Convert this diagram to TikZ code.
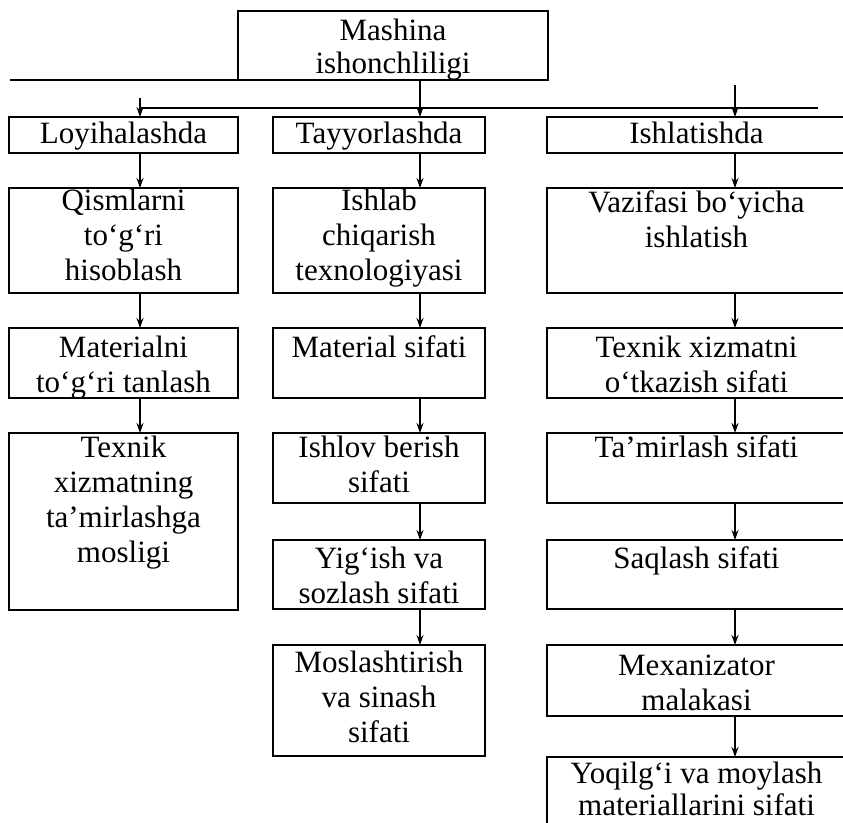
\documentclass[tikz,border=0pt]{standalone}
\usepackage{fontspec}
\setmainfont{Liberation Serif}
\usetikzlibrary{arrows.meta}
\tikzset{
  box/.style={draw, line width=1.3pt, inner sep=0pt, outer sep=0pt, anchor=north west,
              font=\fontsize{31pt}{35pt}\selectfont},
  arr/.style={line width=1.3pt, -{Stealth[length=10pt,width=7pt]}},
  ln/.style={line width=1.3pt},
}
% name, x1, y1, x2, y2, first-baseline offset, text
\newcommand\bx[7]{\node[box] (#1) at (#2,#3)
  {\parbox[t][\dimexpr#5pt-#3pt\relax][t]{\dimexpr#4pt-#2pt\relax}{\centering\rule{0pt}{#6pt}#7}};}
\begin{document}
\begin{tikzpicture}[x=1pt,y=-1pt]
\useasboundingbox (0,0) rectangle (843,822);
\clip (0,0) rectangle (843,822);

\bx{top}{238}{11}{548}{80}{29}{Mashina\\[-2pt]ishonchliligi}

\bx{h1}{9}{117}{238}{153}{26}{Loyihalashda}
\bx{h2}{273}{117}{485}{153}{26}{Tayyorlashda}
\bx{h3}{547}{117}{846}{153}{26}{Ishlatishda}

\bx{a1}{9}{188}{238}{293}{22}{Qismlarni\\to‘g‘ri\\hisoblash}
\bx{b1}{273}{188}{485}{293}{22}{Ishlab\\chiqarish\\texnologiyasi}
\bx{c1}{547}{188}{846}{293}{24}{Vazifasi bo‘yicha\\ishlatish}

\bx{a2}{9}{328}{238}{398}{29}{Materialni\\to‘g‘ri tanlash}
\bx{b2}{273}{328}{485}{398}{29}{Material sifati}
\bx{c2}{547}{328}{846}{398}{29}{Texnik xizmatni\\o‘tkazish sifati}

\bx{a3}{9}{433}{238}{610}{24}{Texnik\\xizmatning\\ta’mirlashga\\mosligi}
\bx{b3}{273}{433}{485}{503}{24}{Ishlov berish\\sifati}
\bx{c3}{547}{433}{846}{503}{24}{Ta’mirlash sifati}

\bx{b4}{273}{540}{485}{609}{28}{Yig‘ish va\\sozlash sifati}
\bx{c4}{547}{540}{846}{609}{28}{Saqlash sifati}

\bx{b5}{273}{645}{485}{756}{27}{Moslashtirish\\va sinash\\sifati}
\bx{c5}{547}{645}{846}{716}{30}{Mexanizator\\malakasi}

\bx{c6}{547}{757}{846}{870}{26}{Yoqilg‘i va moylash\\[-3pt]materiallarini sifati}

% column axes and free line ends
\coordinate (x1) at (140,0);
\coordinate (x2) at (420,0);
\coordinate (x3) at (735,0);
\coordinate (lend) at (10,80);
\coordinate (dl) at (140,108);
\coordinate (dr) at (818,108);
\coordinate (t1) at (140,98);
\coordinate (t3) at (735,85);

% top distribution
\draw[ln] (top.south west) -- (lend);
\draw[ln] (dl) -- (dr);
\draw[arr] (top.south -| x2) -- (h2.north -| x2);
\draw[arr] (t1) -- (h1.north -| x1);
\draw[arr] (t3) -- (h3.north -| x3);

% column 1
\draw[arr] (h1.south -| x1) -- (a1.north -| x1);
\draw[arr] (a1.south -| x1) -- (a2.north -| x1);
\draw[arr] (a2.south -| x1) -- (a3.north -| x1);

% column 2
\draw[arr] (h2.south -| x2) -- (b1.north -| x2);
\draw[arr] (b1.south -| x2) -- (b2.north -| x2);
\draw[arr] (b2.south -| x2) -- (b3.north -| x2);
\draw[arr] (b3.south -| x2) -- (b4.north -| x2);
\draw[arr] (b4.south -| x2) -- (b5.north -| x2);

% column 3
\draw[arr] (h3.south -| x3) -- (c1.north -| x3);
\draw[arr] (c1.south -| x3) -- (c2.north -| x3);
\draw[arr] (c2.south -| x3) -- (c3.north -| x3);
\draw[arr] (c3.south -| x3) -- (c4.north -| x3);
\draw[arr] (c4.south -| x3) -- (c5.north -| x3);
\draw[arr] (c5.south -| x3) -- (c6.north -| x3);
\end{tikzpicture}
\end{document}
